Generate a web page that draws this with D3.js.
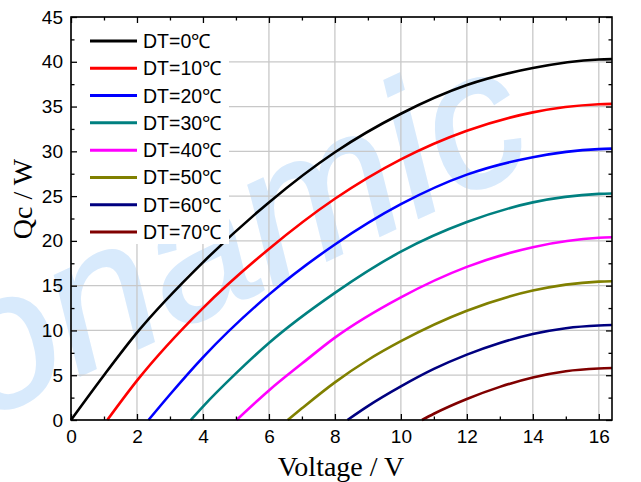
<!DOCTYPE html>
<html><head><meta charset="utf-8">
<script src="https://cdn.jsdelivr.net/npm/d3@7"></script>
<style>html,body{margin:0;padding:0;background:#fff;} svg{display:block;}</style>
</head><body>
<svg id="c" width="641" height="482"></svg>
<script>
// ---- data ----
const seriesNames = ["DT=0℃","DT=10℃","DT=20℃","DT=30℃","DT=40℃","DT=50℃","DT=60℃","DT=70℃"];
const seriesColors = ["#000000","#ff0000","#0000ff","#008080","#ff00ff","#808000","#000080","#800000"];
const vDT0  = [0, 1, 2, 4, 6, 8, 10, 12, 14, 16, 16.4];
const qDT0  = [0, 5.0, 9.75, 17.6, 24.3, 29.9, 34.2, 37.4, 39.3, 40.25, 40.3];
const vDT10 = [1.1, 2, 4, 6, 8, 10, 12, 14, 16, 16.4];
const qDT10 = [0, 4.4, 12.5, 19.1, 24.7, 29.1, 32.3, 34.35, 35.25, 35.3];
const vDT20 = [2.35, 3, 4, 6, 8, 10, 12, 14, 16, 16.4];
const qDT20 = [0, 2.85, 7.0, 14.0, 19.6, 24.1, 27.4, 29.35, 30.25, 30.3];
const vDT30 = [3.63, 4, 5, 6, 8, 10, 12, 14, 16, 16.4];
const qDT30 = [0, 1.5, 5.2, 8.6, 14.2, 18.8, 22.1, 24.3, 25.25, 25.3];
const vDT40 = [5.02, 6, 7, 8, 10, 12, 14, 16, 16.4];
const qDT40 = [0, 3.3, 6.3, 9.2, 13.7, 17.1, 19.3, 20.35, 20.4];
const vDT50 = [6.57, 7, 8, 9, 10, 12, 14, 16, 16.4];
const qDT50 = [0, 1.3, 4.2, 6.7, 8.8, 12.2, 14.45, 15.45, 15.5];
const vDT60 = [8.38, 9, 10, 11, 12, 13, 14, 15, 16, 16.4];
const qDT60 = [0, 1.55, 3.75, 5.7, 7.3, 8.6, 9.6, 10.25, 10.55, 10.6];
const vDT70 = [10.64, 11, 12, 13, 14, 15, 16, 16.4];
const qDT70 = [0, 0.7, 2.35, 3.7, 4.75, 5.45, 5.75, 5.8];
const xTicks = [0, 2, 4, 6, 8, 10, 12, 14, 16];
const yTicks = [0, 5, 10, 15, 20, 25, 30, 35, 40, 45];
const xMinor = [1, 3, 5, 7, 9, 11, 13, 15];
const yMinor = [2.5, 7.5, 12.5, 17.5, 22.5, 27.5, 32.5, 37.5, 42.5];
const xTitle = "Voltage / V";
const yTitle = "Qc / W";
const watermark = "onamic";

const vs = [vDT0,vDT10,vDT20,vDT30,vDT40,vDT50,vDT60,vDT70];
const qs = [qDT0,qDT10,qDT20,qDT30,qDT40,qDT50,qDT60,qDT70];
const series = seriesNames.map((n,i)=>({name:n,color:seriesColors[i],pts:vs[i].map((v,j)=>[v,qs[i][j]])}));

const svg = d3.select("#c");
const L=71, R=612, T=17, B=420;
const x = d3.scaleLinear().domain([0,16.4]).range([L,R]);
const y = d3.scaleLinear().domain([0,45]).range([B,T]);

svg.append("rect").attr("width",641).attr("height",482).attr("fill","#fff");

// watermark
svg.append("text").attr("transform","translate(240,246) rotate(-25)")
  .attr("text-anchor","middle").attr("y",50)
  .attr("font-family","Liberation Sans, Arial, sans-serif").attr("font-style","italic")
  .attr("font-size",192).attr("fill","#d8eafc")
  .attr("stroke","#d8eafc").attr("stroke-width",2).text(watermark);

// grid
const g = svg.append("g");
g.selectAll(".gx").data(xTicks).join("line")
  .attr("x1",d=>x(d)).attr("x2",d=>x(d)).attr("y1",T).attr("y2",B)
  .attr("stroke","#c8c8c8").attr("stroke-width",1.3);
g.selectAll(".gy").data(yTicks).join("line")
  .attr("y1",d=>y(d)).attr("y2",d=>y(d)).attr("x1",L).attr("x2",R)
  .attr("stroke","#c8c8c8").attr("stroke-width",1.3);

// curves
const line = d3.line().x(d=>x(d[0])).y(d=>y(d[1])).curve(d3.curveMonotoneX);
svg.append("g").selectAll("path").data(series).join("path")
  .attr("d",d=>line(d.pts)).attr("fill","none").attr("stroke",d=>d.color)
  .attr("stroke-width",2.6);

// legend
const lg = svg.append("g");
lg.append("rect").attr("x",L+1).attr("y",T+1).attr("width",157).attr("height",226).attr("fill","#fff");
const ly = d3.scaleLinear().domain([0,7]).range([41,232]);
series.forEach((s,i)=>{
  lg.append("line").attr("x1",90).attr("x2",137).attr("y1",ly(i)).attr("y2",ly(i))
    .attr("stroke",s.color).attr("stroke-width",3);
  lg.append("text").attr("x",143).attr("y",ly(i)+7)
    .attr("font-family","Liberation Sans, Arial, sans-serif").attr("font-size",19.5)
    .attr("fill","#000").text(s.name);
});

// axes (ticks inward, mirrored)
const fontNum = "Liberation Sans, Arial, sans-serif";
const ax = [
  d3.axisBottom(x).tickValues(xTicks).tickSize(-6),
  d3.axisTop(x).tickValues(xTicks).tickSize(-6).tickFormat(""),
  d3.axisLeft(y).tickValues(yTicks).tickSize(-6),
  d3.axisRight(y).tickValues(yTicks).tickSize(-6).tickFormat("")
];
const pos = [`translate(0,${B})`,`translate(0,${T})`,`translate(${L},0)`,`translate(${R},0)`];
ax.forEach((a,i)=>{
  const gg = svg.append("g").attr("transform",pos[i]).call(a.tickPadding(i==0?10:8));
  gg.select(".domain").remove();
  gg.selectAll("line").attr("stroke","#000").attr("stroke-width",1.3);
  gg.selectAll("text").attr("font-family",fontNum).attr("font-size",19).attr("fill","#000");
});
const mx = [d3.axisBottom(x).tickValues(xMinor).tickSize(-3.5).tickFormat(""),
  d3.axisTop(x).tickValues(xMinor).tickSize(-3.5).tickFormat(""),
  d3.axisLeft(y).tickValues(yMinor).tickSize(-3.5).tickFormat(""),
  d3.axisRight(y).tickValues(yMinor).tickSize(-3.5).tickFormat("")];
mx.forEach((a,i)=>{
  const gg = svg.append("g").attr("transform",pos[i]).call(a);
  gg.select(".domain").remove();
  gg.selectAll("line").attr("stroke","#000").attr("stroke-width",1.3);
});
svg.append("rect").attr("x",L).attr("y",T).attr("width",R-L).attr("height",B-T)
  .attr("fill","none").attr("stroke","#000").attr("stroke-width",1.6);

// titles
svg.append("text").attr("x",341).attr("y",476).attr("text-anchor","middle")
  .attr("font-family","Liberation Serif, Times New Roman, serif").attr("font-size",28).text(xTitle);
svg.append("text").attr("transform","translate(32,199) rotate(-90)").attr("text-anchor","middle")
  .attr("font-family","Liberation Serif, Times New Roman, serif").attr("font-size",28).text(yTitle);
</script>
</body></html>
